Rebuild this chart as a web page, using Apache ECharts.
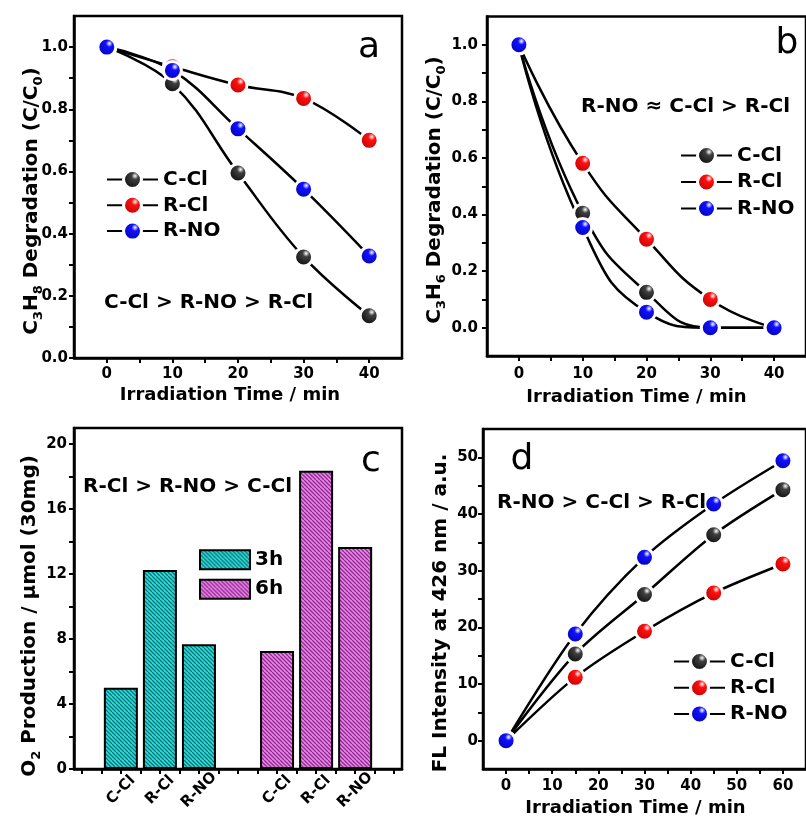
<!DOCTYPE html>
<html>
<head>
<meta charset="utf-8">
<script src="https://cdn.jsdelivr.net/npm/echarts@6/dist/echarts.min.js"></script>
<style>
  html, body { margin: 0; padding: 0; background: #fff; }
  #chart { width: 806px; height: 818px; }
</style>
</head>
<body>
<div id="chart"></div>
<script>
// ---- data ----
const seriesNames = ['C-Cl', 'R-Cl', 'R-NO'];

// (a) C3H8 degradation, C/C0
const timeAB = [0, 10, 20, 30, 40];
const propaneCCl = [1.0, 0.882, 0.595, 0.325, 0.136];
const propaneRCl = [1.0, 0.937, 0.878, 0.835, 0.700];
const propaneRNO = [1.0, 0.925, 0.737, 0.543, 0.328];

// (b) C3H6 degradation, C/C0
const propyleneCCl = [1.0, 0.405, 0.125, 0.0, 0.0];
const propyleneRCl = [1.0, 0.581, 0.313, 0.100, 0.0];
const propyleneRNO = [1.0, 0.354, 0.055, 0.0, 0.0];

// (c) O2 production, umol per 30 mg
const catalysts = ['C-Cl', 'R-Cl', 'R-NO'];
const o2At3h = [5.0, 12.26, 7.69];
const o2At6h = [7.27, 18.37, 13.67];
const barSlots = ['', ...catalysts, '', ...catalysts, ''];

// (d) FL intensity at 426 nm
const timeD = [0, 15, 30, 45, 60];
const flCCl = [0, 15.3, 25.8, 36.35, 44.3];
const flRCl = [0, 11.17, 19.3, 26.06, 31.18];
const flRNO = [0, 18.82, 32.35, 41.76, 49.4];

// tick labels
const degradationTicks = [0, 0.2, 0.4, 0.6, 0.8, 1.0];
const timeTicksAB = [0, 10, 20, 30, 40];
const o2Ticks = [0, 4, 8, 12, 16, 20];
const flTicks = [0, 10, 20, 30, 40, 50];
const timeTicksD = [0, 10, 20, 30, 40, 50, 60];

// panel texts
const rankA = 'C-Cl > R-NO > R-Cl';
const rankB = 'R-NO \u2248 C-Cl > R-Cl';
const rankC = 'R-Cl > R-NO > C-Cl';
const rankD = 'R-NO > C-Cl > R-Cl';

// ---- styling helpers ----
const FONT = 'DejaVu Sans';

function sphere(base, dark) {
  return {
    type: 'radial', x: 0.62, y: 0.33, r: 0.75,
    colorStops: [
      { offset: 0, color: '#ffffff' },
      { offset: 0.22, color: base },
      { offset: 1, color: dark }
    ]
  };
}
const markerFill = {
  'C-Cl': sphere('#404040', '#000000'),
  'R-Cl': sphere('#ff1010', '#b00000'),
  'R-NO': sphere('#1010ff', '#0000a8')
};

function hatch(light, dark) {
  const c = document.createElement('canvas');
  c.width = 8; c.height = 8;
  const g = c.getContext('2d');
  g.fillStyle = light;
  g.fillRect(0, 0, 8, 8);
  g.strokeStyle = dark;
  g.lineWidth = 1.25;
  for (let k = -8; k <= 8; k += 4) {
    g.beginPath(); g.moveTo(k, 0); g.lineTo(k + 8, 8); g.stroke();
  }
  return { image: c, repeat: 'repeat' };
}

function withMidpoints(majors) {
  const out = [];
  majors.forEach((v, i) => {
    out.push(v);
    if (i < majors.length - 1) out.push((v + majors[i + 1]) / 2);
  });
  return out;
}

function axis(gridIndex, min, max, labels, ticks, fmt, labelMargin, extra) {
  return Object.assign({
    type: 'value', gridIndex, min, max,
    axisLine: { show: true, onZero: false, lineStyle: { color: '#000', width: 2.5 } },
    axisTick: { show: true, inside: false, length: 5, lineStyle: { color: '#000', width: 2 }, customValues: ticks },
    axisLabel: {
      show: true, customValues: labels, formatter: fmt, margin: labelMargin,
      color: '#000', fontFamily: FONT, fontWeight: 'bold', fontSize: 15
    },
    splitLine: { show: false }
  }, extra || {});
}

function xTitle(gap, shift) {
  return {
    name: 'Irradiation Time / min', nameLocation: 'middle', nameGap: gap,
    nameTextStyle: { fontFamily: FONT, fontWeight: 'bold', fontSize: 18, color: '#000', padding: [0, shift, 0, 0] }
  };
}

function lineSeries(name, idx, xs, ys, smooth) {
  return {
    type: 'line', name, xAxisIndex: idx, yAxisIndex: idx,
    data: xs.map((x, i) => [x, ys[i]]),
    smooth, symbol: 'circle', symbolSize: 18, showSymbol: true,
    itemStyle: { color: markerFill[name], borderColor: '#fff', borderWidth: 3 },
    lineStyle: { color: '#000', width: 2.5 },
    emphasis: { disabled: true }
  };
}

function lineLegend(left, top, gap) {
  return {
    data: seriesNames, orient: 'vertical', left, top, padding: 0, itemGap: gap,
    itemWidth: 51, itemHeight: 22.5, selectedMode: false,
    itemStyle: { borderColor: '#fff', borderWidth: 3 },
    textStyle: { fontFamily: FONT, fontWeight: 'bold', fontSize: 20, color: '#000', lineHeight: 22 }
  };
}

const yRich = {
  m: { fontFamily: FONT, fontWeight: 'bold', fontSize: 20, lineHeight: 26, fill: '#000' },
  s: { fontFamily: FONT, fontWeight: 'bold', fontSize: 13, lineHeight: 12, verticalAlign: 'bottom', fill: '#000' }
};
function yTitle(x, y, text) {
  return { type: 'text', x, y, rotation: Math.PI / 2, z: 50,
    style: { text, rich: yRich, align: 'center', verticalAlign: 'middle', fill: '#000' } };
}
function note(x, y, text) {
  return { type: 'text', x, y, z: 50,
    style: { text, fontFamily: FONT, fontWeight: 'bold', fontSize: 20, fill: '#000', align: 'left', verticalAlign: 'middle' } };
}
function letter(x, y, text) {
  return { type: 'text', x, y, z: 50,
    style: { text, fontFamily: FONT, fontWeight: 'normal', fontSize: 36, fill: '#000', align: 'center', verticalAlign: 'middle' } };
}

const fmt1 = v => v.toFixed(1);
const fmt0 = v => String(v);
const frame = { show: true, borderColor: '#000', borderWidth: 2.5, backgroundColor: 'transparent' };
const slotIndex = barSlots.map((s, i) => i);
const labelledSlots = slotIndex.filter(i => barSlots[i]);

const option = {
  animation: false,
  textStyle: { fontFamily: FONT },
  grid: [
    Object.assign({ left: 74, top: 16, width: 328, height: 342 }, frame),
    Object.assign({ left: 487, top: 16.5, width: 329, height: 339.5 }, frame),
    Object.assign({ left: 74, top: 428, width: 328, height: 341 }, frame),
    Object.assign({ left: 483, top: 429, width: 330, height: 340 }, frame)
  ],
  xAxis: [
    axis(0, -5, 45, timeTicksAB, withMidpoints(timeTicksAB), fmt0, 9, xTitle(28, 16)),
    axis(1, -5, 45, timeTicksAB, withMidpoints(timeTicksAB), fmt0, 11, xTitle(32, 20)),
    axis(2, -0.2, 8.2, labelledSlots, withMidpoints(slotIndex), v => barSlots[v], 21, {
      axisLabel: {
        show: true, customValues: labelledSlots, formatter: v => barSlots[v],
        margin: 21, rotate: 45, align: 'center', verticalAlign: 'middle',
        color: '#000', fontFamily: FONT, fontWeight: 'bold', fontSize: 15
      }
    }),
    axis(3, -5, 65, timeTicksD, withMidpoints(timeTicksD), fmt0, 10, xTitle(30, 18))
  ],
  yAxis: [
    axis(0, 0, 1.1, degradationTicks, withMidpoints(degradationTicks), fmt1, 6),
    axis(1, -0.1, 1.1, degradationTicks, withMidpoints(degradationTicks), fmt1, 9),
    axis(2, 0, 21, o2Ticks, withMidpoints(o2Ticks), fmt0, 7),
    axis(3, -5, 55, flTicks, withMidpoints(flTicks), fmt0, 5)
  ],
  legend: [
    lineLegend(106, 168.5, 3.8),
    lineLegend(680, 144.5, 4.5),
    {
      data: ['3h', '6h'], orient: 'vertical', left: 199, top: 549.3, padding: 0, itemGap: 8.4,
      itemWidth: 50, itemHeight: 19, icon: 'rect', selectedMode: false,
      textStyle: { fontFamily: FONT, fontWeight: 'bold', fontSize: 20, color: '#000', lineHeight: 19 }
    },
    lineLegend(673, 650.5, 4.2)
  ],
  series: [
    lineSeries('C-Cl', 0, timeAB, propaneCCl, 0.4),
    lineSeries('R-Cl', 0, timeAB, propaneRCl, 0.4),
    lineSeries('R-NO', 0, timeAB, propaneRNO, 0.4),
    lineSeries('C-Cl', 1, timeAB, propyleneCCl, 0.5),
    lineSeries('R-Cl', 1, timeAB, propyleneRCl, 0.5),
    lineSeries('R-NO', 1, timeAB, propyleneRNO, 0.5),
    {
      type: 'bar', name: '3h', xAxisIndex: 2, yAxisIndex: 2,
      data: catalysts.map((c, i) => [1 + i, o2At3h[i]]),
      barWidth: 34, barGap: '-100%',
      itemStyle: { color: hatch('#2ee0e0', '#0c7474'), borderColor: '#000', borderWidth: 2 },
      emphasis: { disabled: true }
    },
    {
      type: 'bar', name: '6h', xAxisIndex: 2, yAxisIndex: 2,
      data: catalysts.map((c, i) => [catalysts.length + 2 + i, o2At6h[i]]),
      barWidth: 34, barGap: '-100%',
      itemStyle: { color: hatch('#ec84ec', '#8e2e8e'), borderColor: '#000', borderWidth: 2 },
      emphasis: { disabled: true }
    },
    lineSeries('C-Cl', 3, timeD, flCCl, 0.3),
    lineSeries('R-Cl', 3, timeD, flRCl, 0.3),
    lineSeries('R-NO', 3, timeD, flRNO, 0.3)
  ],
  graphic: [
    yTitle(32, 201, '{m|C}{s|3}{m|H}{s|8}{m| Degradation (C/C}{s|0}{m|)}'),
    yTitle(435, 190, '{m|C}{s|3}{m|H}{s|6}{m| Degradation (C/C}{s|0}{m|)}'),
    yTitle(30, 616, '{m|O}{s|2}{m| Production / \u03bcmol (30mg)}'),
    yTitle(441, 613, '{m|FL Intensity at 426 nm / a.u.}'),
    note(104, 303, rankA),
    note(581, 107, rankB),
    note(83, 487, rankC),
    note(497, 503, rankD),
    letter(369, 48, 'a'),
    letter(787, 44, 'b'),
    letter(371, 462, 'c'),
    letter(522, 460, 'd')
  ]
};

const chart = echarts.init(document.getElementById('chart'), null, { renderer: 'canvas' });
chart.setOption(option);
</script>
</body>
</html>
